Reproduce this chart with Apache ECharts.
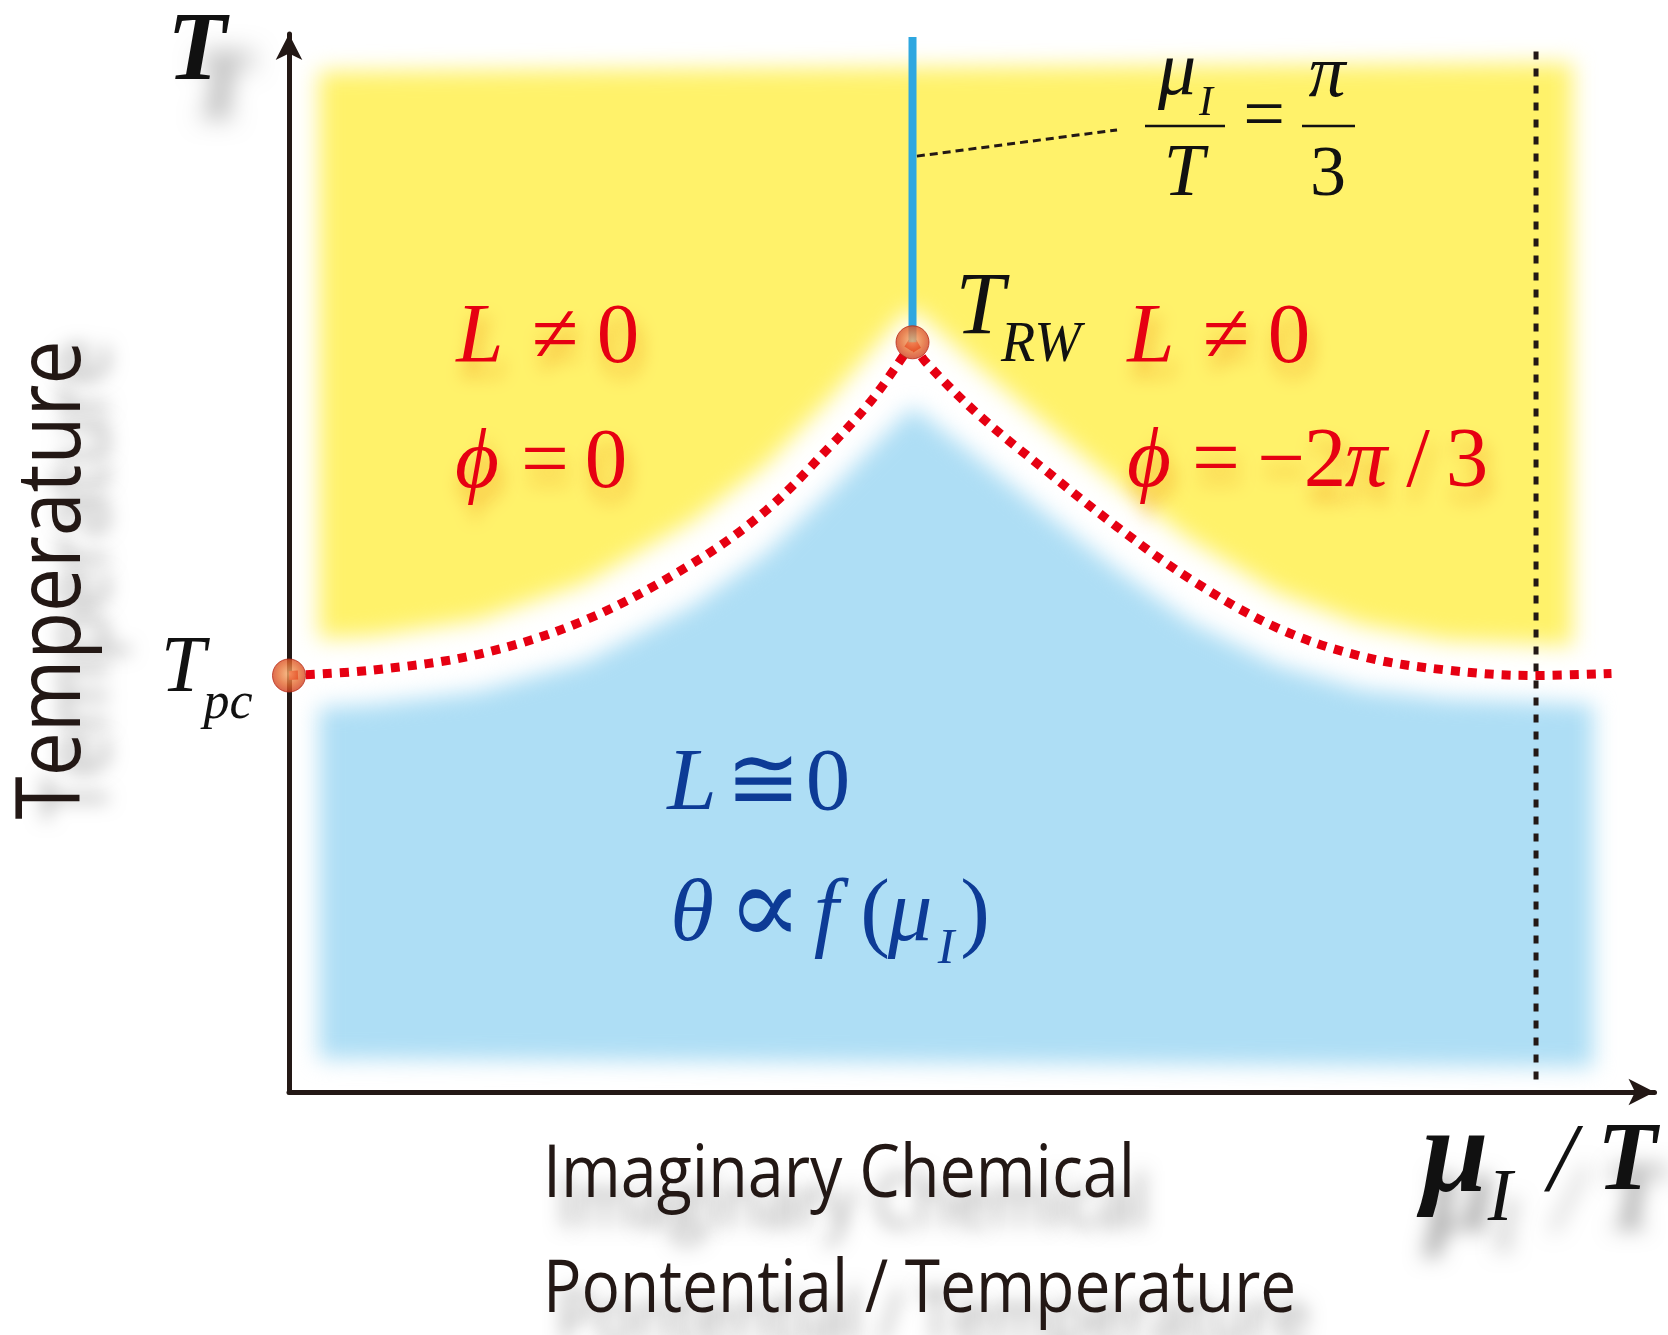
<!DOCTYPE html>
<html>
<head>
<meta charset="utf-8">
<title>Roberge-Weiss phase diagram</title>
<script src="https://cdn.jsdelivr.net/npm/echarts@6/dist/echarts.min.js"></script>
<style>
  html, body { margin: 0; padding: 0; background: #ffffff; }
  #wrap { position: relative; width: 1668px; height: 1335px; overflow: hidden; background: #ffffff; }
  #regions, #main { position: absolute; left: 0; top: 0; width: 1668px; height: 1335px; }
  #regions { filter: blur(11px); }
</style>
</head>
<body>
<div id="wrap">
  <div id="regions"></div>
  <div id="main"></div>
</div>
<script>
// x: mu_I / T in units of pi/3 ; y: temperature in units of T_pc
const X_MAX = 2.19;
const Y_MAX = 2.54;

// crossover line from T_pc up to the Roberge-Weiss endpoint, and its periodic image
const crossoverLeft = [
  [0.000, 1.000], [0.134, 1.013], [0.304, 1.051], [0.475, 1.133], [0.646, 1.268],
  [0.765, 1.396], [0.867, 1.549], [0.936, 1.664], [1.000, 1.800]
];
const crossoverRight = [
  [1.000, 1.800], [1.021, 1.753], [1.106, 1.626], [1.209, 1.498], [1.328, 1.357],
  [1.447, 1.230], [1.584, 1.115], [1.720, 1.046], [1.857, 1.013], [1.993, 1.000], [2.121, 1.005]
];

// Roberge-Weiss transition line at mu_I/T = pi/3
const rwLine = [[1.0, 1.80], [1.0, 2.533]];
// T_pc and T_RW
const criticalPoints = [[0.0, 1.0], [1.0, 1.80]];
// mu_I/T = 2pi/3
const periodLine = [[2.0, 0.03], [2.0, 2.507]];
// pointer from the RW line to its formula
const leaderLine = [[1.007, 2.247], [1.328, 2.310]];

// deconfined (L != 0) region
const deconfinedRegion = [
  [0.048, 2.450], [2.058, 2.470], [2.058, 1.072], [1.857, 1.084], [1.720, 1.122],
  [1.584, 1.199], [1.447, 1.324], [1.328, 1.460], [1.209, 1.608], [1.106, 1.741],
  [1.021, 1.856], [1.000, 1.881], [0.978, 1.856], [0.936, 1.784], [0.867, 1.664],
  [0.765, 1.506], [0.646, 1.370], [0.475, 1.222], [0.304, 1.133], [0.134, 1.094],
  [0.048, 1.089]
];
// confined (L ~ 0) region
const confinedRegion = [
  [0.048, 0.923], [0.134, 0.931], [0.304, 0.962], [0.475, 1.033], [0.646, 1.166],
  [0.765, 1.294], [0.867, 1.442], [0.936, 1.549], [1.000, 1.646], [1.072, 1.562],
  [1.209, 1.396], [1.328, 1.255], [1.447, 1.128], [1.584, 1.026], [1.720, 0.967],
  [1.857, 0.944], [2.010, 0.936], [2.092, 0.930], [2.092, 0.060], [0.048, 0.080]
];

const GRID = { left: 289, right: 13.5, top: 34.1, bottom: 243, containLabel: false };

const RED = '#e60012';
const NAVY = '#0d3b96';
const INK = '#231815';
const SERIF = '"Liberation Serif", "DejaVu Serif", serif';
const SANS = '"Open Sans", "Noto Sans", sans-serif';
const K_SERIF = 0.3375;
const K_SANS = 0.388;

function hiddenAxes() {
  return {
    xAxis: { type: 'value', min: 0, max: X_MAX, show: false },
    yAxis: { type: 'value', min: 0, max: Y_MAX, show: false }
  };
}

function polygonSeries(points, color) {
  return {
    type: 'custom',
    data: points,
    encode: { x: 0, y: 1 },
    silent: true,
    renderItem: function (params, api) {
      if (params.dataIndex !== 0) return null;
      const pts = points.map(function (p) { return api.coord(p); });
      return { type: 'polygon', shape: { points: pts }, style: { fill: color } };
    }
  };
}

// soft coloured phase regions (blurred layer)
const regionChart = echarts.init(document.getElementById('regions'), null, { renderer: 'canvas' });
regionChart.setOption(Object.assign({
  animation: false,
  backgroundColor: 'transparent',
  grid: GRID,
  series: [
    polygonSeries(deconfinedRegion, '#fff26a'),
    polygonSeries(confinedRegion, '#aedef5')
  ]
}, hiddenAxes()));

// text helpers
function shadowOf(color, blur, dx, dy) {
  return { textShadowColor: color, textShadowBlur: blur, textShadowOffsetX: dx, textShadowOffsetY: dy };
}
function serif(x, baseline, text, size, color, italic, bold, shadow) {
  return {
    type: 'text', x: x, y: baseline - K_SERIF * size, z: 100,
    style: Object.assign({
      text: text, x: 0, y: 0, fill: color,
      font: (italic ? 'italic ' : 'normal ') + (bold ? 'bold ' : 'normal ') + size + 'px ' + SERIF,
      align: 'center', verticalAlign: 'middle', textAlign: 'center', textVerticalAlign: 'middle'
    }, shadow || {})
  };
}
function sans(x, baseline, text, size, scaleX, rotation, shadow) {
  const el = {
    type: 'text', z: 100, scaleX: scaleX, rotation: rotation || 0,
    style: Object.assign({
      text: text, x: 0, y: 0, fill: INK,
      font: 'normal normal ' + size + 'px ' + SANS,
      align: rotation ? 'center' : 'left', verticalAlign: 'middle',
      textAlign: rotation ? 'center' : 'left', textVerticalAlign: 'middle'
    }, shadow || {})
  };
  if (rotation) { el.x = baseline - K_SANS * size; el.y = x; }
  else { el.x = x; el.y = baseline - K_SANS * size; }
  return el;
}
function bar(x1, x2, y) {
  return { type: 'line', z: 100, shape: { x1: x1, y1: y, x2: x2, y2: y }, style: { stroke: '#111', lineWidth: 2.5 } };
}

const redGlow = shadowOf('rgba(236,130,10,0.55)', 18, 4, 14);
const grayShade = shadowOf('rgba(0,0,0,0.35)', 18, 14, 30);

const labels = [
  // axis names
  serif(197, 87, 'T', 97, '#111', true, true, shadowOf('rgba(0,0,0,0.38)', 24, 24, 38)),
  sans(580, 89, 'Temperature', 90, 0.87, Math.PI / 2, shadowOf('rgba(0,0,0,0.32)', 18, 28, 0)),
  sans(543, 1205, 'Imaginary Chemical', 73, 0.885, 0, grayShade),
  sans(543, 1320, 'Pontential / Temperature', 73, 0.877, 0, grayShade),
  serif(1455, 1200, 'μ', 120, '#111', true, true, shadowOf('rgba(0,0,0,0.35)', 20, 6, 40)),
  serif(1500, 1226, 'I', 74, '#111', true, false, shadowOf('rgba(0,0,0,0.3)', 20, 6, 30)),
  serif(1562, 1197, '/', 98, '#111', true, false, shadowOf('rgba(0,0,0,0.3)', 20, 6, 40)),
  serif(1627, 1197, 'T', 98, '#111', true, true, shadowOf('rgba(0,0,0,0.35)', 20, 6, 40)),

  // T_pc and T_RW
  serif(183, 697, 'T', 80, '#111', true, false),
  serif(228, 722, 'pc', 52, '#111', true, false),
  serif(980, 340, 'T', 88, '#111', true, false),
  serif(1041, 365, 'RW', 56, '#111', true, false),

  // mu_I / T = pi / 3
  serif(1177, 100, 'μ', 76, '#111', true, false),
  serif(1206, 118, 'I', 42, '#111', true, false),
  bar(1145, 1225, 126),
  serif(1184, 200, 'T', 73, '#111', true, false),
  serif(1264, 144, '=', 74, '#111', false, false),
  serif(1327, 102, 'π', 74, '#111', true, false),
  bar(1302, 1355, 126),
  serif(1328, 200, '3', 72, '#111', false, false),

  // deconfined, phi = 0
  serif(480, 368, 'L', 85, RED, true, false, redGlow),
  serif(555, 368, '≠', 85, RED, false, false, redGlow),
  serif(618, 368, '0', 85, RED, false, false, redGlow),
  serif(477, 493, 'ϕ', 85, RED, true, false, redGlow),
  serif(545, 493, '=', 85, RED, false, false, redGlow),
  serif(606, 493, '0', 85, RED, false, false, redGlow),

  // deconfined, phi = -2pi/3
  serif(1151, 368, 'L', 85, RED, true, false, redGlow),
  serif(1226, 368, '≠', 85, RED, false, false, redGlow),
  serif(1289, 368, '0', 85, RED, false, false, redGlow),
  serif(1149, 492, 'ϕ', 85, RED, true, false, redGlow),
  serif(1216, 492, '=', 85, RED, false, false, redGlow),
  serif(1281, 492, '−', 85, RED, false, false, redGlow),
  serif(1325, 492, '2', 85, RED, false, false, redGlow),
  serif(1366, 492, 'π', 85, RED, true, false, redGlow),
  serif(1418, 492, '/', 85, RED, false, false, redGlow),
  serif(1467, 492, '3', 85, RED, false, false, redGlow),

  // confined phase
  serif(692, 816, 'L', 89, NAVY, true, false),
  serif(763, 816, '≅', 89, NAVY, false, false),
  serif(828, 816, '0', 89, NAVY, false, false),
  serif(692, 947, 'θ', 89, NAVY, true, false),
  serif(765, 952, '∝', 112, NAVY, false, false),
  serif(826, 947, 'f', 89, NAVY, true, false),
  serif(875, 947, '(', 89, NAVY, false, false),
  serif(910, 947, 'μ', 89, NAVY, true, false),
  serif(946, 967, 'I', 50, NAVY, true, false),
  serif(975, 947, ')', 89, NAVY, false, false)
];

const axisLine = {
  show: true,
  symbol: ['none', 'arrow'],
  symbolSize: [20, 26],
  lineStyle: { color: INK, width: 5 }
};

const chart = echarts.init(document.getElementById('main'), null, { renderer: 'canvas' });
chart.setOption({
  animation: false,
  backgroundColor: 'transparent',
  grid: GRID,
  xAxis: {
    type: 'value', min: 0, max: X_MAX,
    axisLine: axisLine, axisTick: { show: false }, axisLabel: { show: false }, splitLine: { show: false }
  },
  yAxis: {
    type: 'value', min: 0, max: Y_MAX,
    axisLine: axisLine, axisTick: { show: false }, axisLabel: { show: false }, splitLine: { show: false }
  },
  series: [
    {
      name: 'crossover', type: 'line', data: crossoverLeft, smooth: 0.35, symbol: 'none', z: 3,
      lineStyle: { color: RED, width: 9, type: [9, 8], cap: 'butt' }
    },
    {
      name: 'crossover image', type: 'line', data: crossoverRight, smooth: 0.35, symbol: 'none', z: 3,
      lineStyle: { color: RED, width: 9, type: [9, 8], cap: 'butt' }
    },
    {
      name: 'RW transition', type: 'line', data: rwLine, symbol: 'none', z: 4,
      lineStyle: { color: '#2ea7e0', width: 8, cap: 'butt' }
    },
    {
      name: '2pi/3', type: 'line', data: periodLine, symbol: 'none', z: 2,
      lineStyle: { color: INK, width: 5, type: [8, 9], cap: 'butt' }
    },
    {
      name: 'leader', type: 'line', data: leaderLine, symbol: 'none', z: 2,
      lineStyle: { color: INK, width: 3, type: [8, 5], cap: 'butt' }
    },
    {
      name: 'critical points', type: 'scatter', data: criticalPoints, symbolSize: 33, z: 10,
      itemStyle: {
        color: new echarts.graphic.RadialGradient(0.5, 0.45, 0.6, [
          { offset: 0, color: '#f7b06e' },
          { offset: 0.55, color: '#e4682f' },
          { offset: 1, color: '#c9301a' }
        ]),
        borderColor: '#b52a16', borderWidth: 1
      }
    }
  ],
  graphic: { elements: labels }
});
</script>
</body>
</html>
